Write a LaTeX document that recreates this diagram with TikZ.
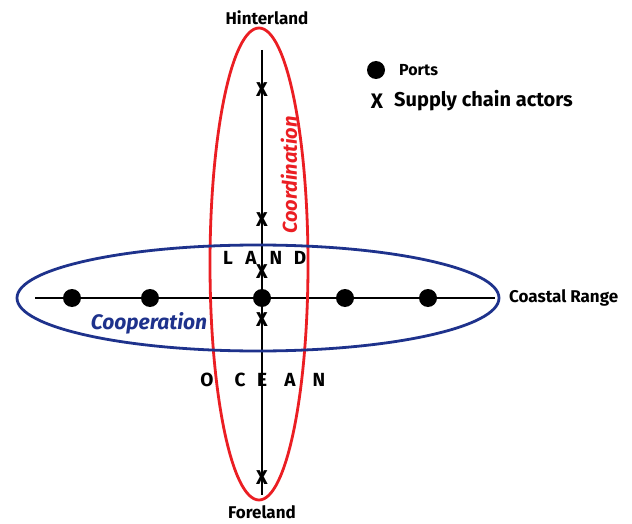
\documentclass[tikz,border=0pt]{standalone}
\usepackage{fontspec}
\setmainfont{Fira Sans}
\definecolor{redell}{RGB}{235,30,35}
\definecolor{blueell}{RGB}{30,50,140}
\begin{document}
\begin{tikzpicture}[x=1pt,y=-1pt,
  port/.style={circle,fill=black,inner sep=0pt,minimum size=18pt},
  actor/.style={inner sep=0pt,font=\bfseries\fontsize{20}{20}\selectfont},
  lbl/.style={inner sep=0pt,font=\fontsize{16}{16}\selectfont\bfseries},
  lett/.style={inner sep=0pt,font=\fontsize{19}{19}\selectfont\bfseries},
  axis/.style={line width=1.8pt}]
\useasboundingbox (0,0) rectangle (632,524);
\fill[white] (0,0) rectangle (632,524);
% axes
\coordinate (vt) at (262,50);
\coordinate (vb) at (262,495);
\coordinate (hl) at (35,298);
\coordinate (hr) at (495,298);
\draw[axis] (vt) -- (vb);
\draw[axis] (hl) -- (hr);
% ellipses
\draw[redell,line width=2.8pt] (259,264) ellipse [x radius=49, y radius=236];
\draw[blueell,line width=2.8pt] (258,298) ellipse [x radius=241, y radius=53];
% ports
\foreach \n/\x in {p1/72,p2/150,p3/262,p4/345,p5/428}
  \node[port] (\n) at (\x,298) {};
% actors
\foreach \n/\y in {a1/90,a2/220,a3/272,a4/320,a5/478}
  \node[actor] (\n) at (262,\y) {X};
% labels
\node[lbl,font=\fontsize{17}{17}\selectfont\bfseries] (hint) at (267,18) {Hinterland};
\node[lbl,font=\fontsize{17}{17}\selectfont\bfseries] (fore) at (262,512) {Foreland};
\node[lbl,anchor=west,font=\fontsize{17}{17}\selectfont\bfseries] (coast) at (509,298) {Coastal Range};
\node[lett] (L1) at (228,258) {L};
\node[lett] (L2) at (251,258) {A};
\node[lett] (L3) at (276,258) {N};
\node[lett] (L4) at (300,258) {D};
\node[lett] (O1) at (207,380) {O};
\node[lett] (O2) at (240,380) {C};
\node[lett] (O3) at (262,380) {E};
\node[lett] (O4) at (290,380) {A};
\node[lett] (O5) at (319,380) {N};
\node[inner sep=0pt,text=blueell,font=\fontsize{21}{21}\selectfont\bfseries\itshape] (coop) at (149,323) {Cooperation};
\node[inner sep=0pt,text=redell,rotate=90,font=\fontsize{20}{20}\selectfont\bfseries\itshape] (coord) at (289,175) {Coordination};
% legend
\node[port] (lp) at (376,70) {};
\node[lbl,anchor=west] (lpt) at (399,70) {Ports};
\node[actor,font=\bfseries\fontsize{21}{21}\selectfont] (lx) at (377,101) {X};
\node[lbl,anchor=west,font=\fontsize{20}{20}\selectfont\bfseries] (lxt) at (394,101) {Supply chain actors};
\end{tikzpicture}
\end{document}
